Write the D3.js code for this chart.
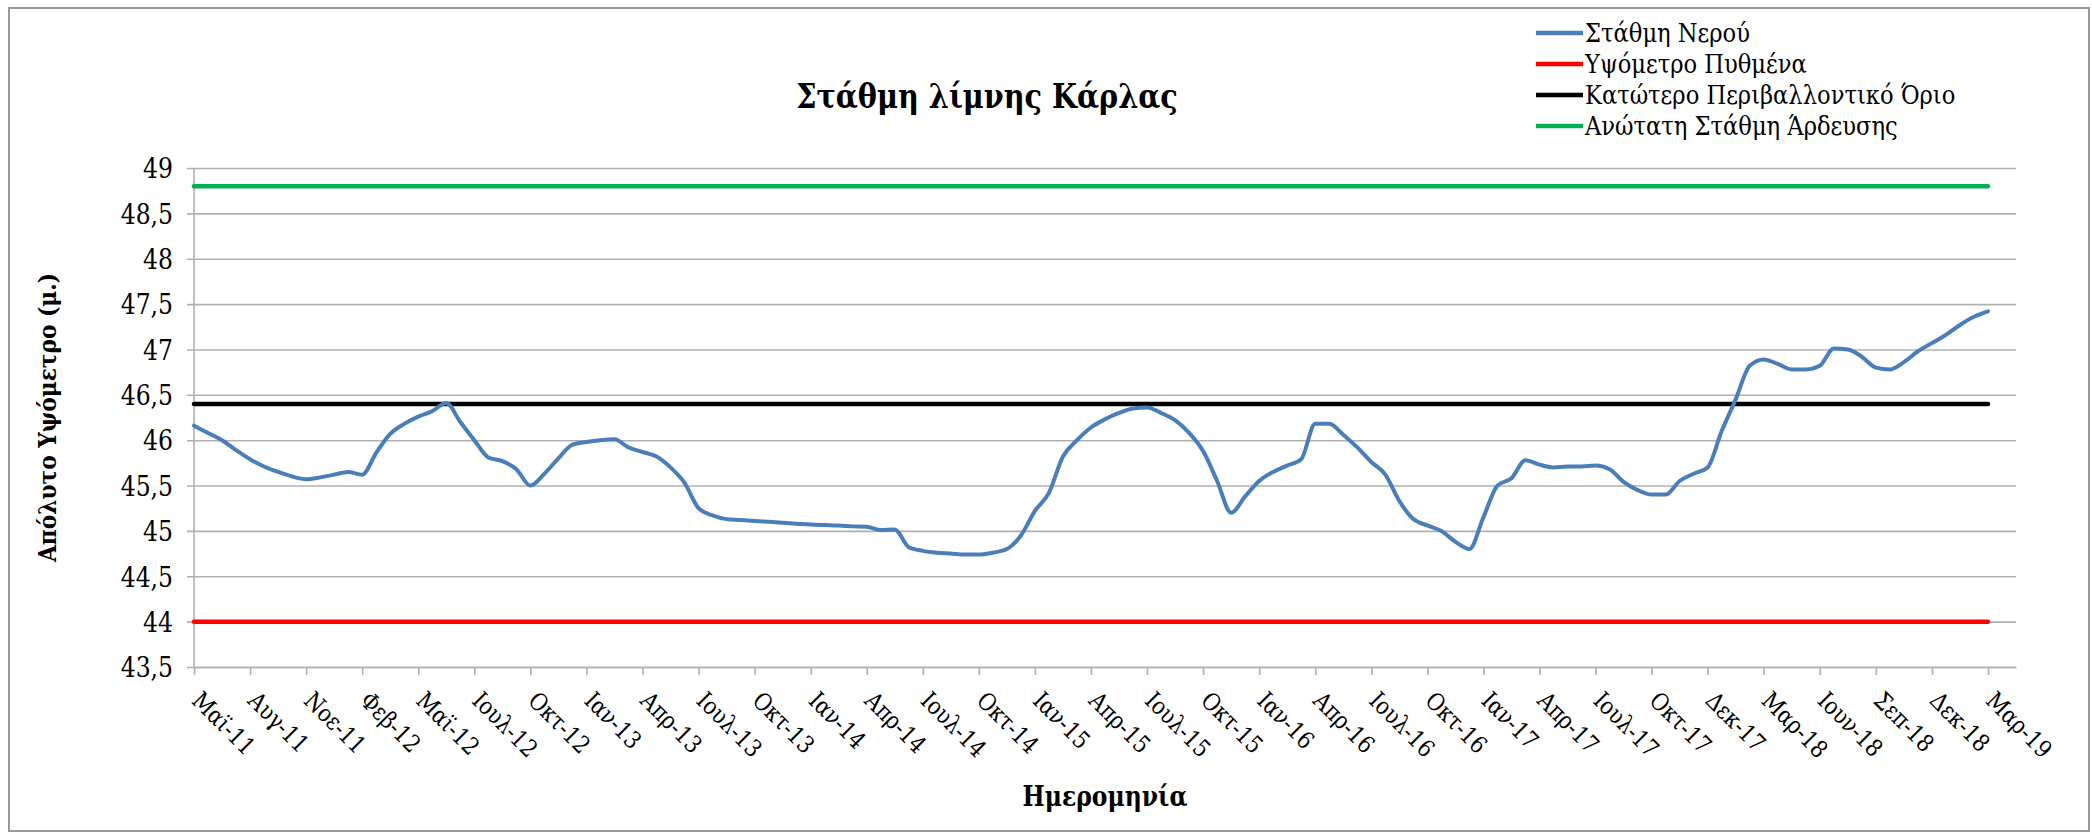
<!DOCTYPE html>
<html>
<head>
<meta charset="utf-8">
<script src="https://cdn.jsdelivr.net/npm/d3@7"></script>
<style>
  body { margin: 0; background: #ffffff; }
</style>
</head>
<body>
<script>
// ----- Data -----
// tick labels, one every 4 categories
const labels = ["Μαϊ-11","Αυγ-11","Νοε-11","Φεβ-12","Μαϊ-12","Ιουλ-12","Οκτ-12","Ιαν-13","Απρ-13",
    "Ιουλ-13","Οκτ-13","Ιαν-14","Απρ-14","Ιουλ-14","Οκτ-14","Ιαν-15","Απρ-15","Ιουλ-15","Οκτ-15",
    "Ιαν-16","Απρ-16","Ιουλ-16","Οκτ-16","Ιαν-17","Απρ-17","Ιουλ-17","Οκτ-17","Δεκ-17","Μαρ-18",
    "Ιουν-18","Σεπ-18","Δεκ-18","Μαρ-19"];
const labelStep = 4;

// water level (m), one value per category
const waterLevel = [
    46.16, 46.08, 46.00, 45.89,  45.79, 45.71, 45.65, 45.60,
    45.57, 45.59, 45.62, 45.65,  45.62, 45.86, 46.07, 46.18,
    46.26, 46.32, 46.41, 46.20,  46.00, 45.81, 45.77, 45.68,
    45.50, 45.63, 45.80, 45.95,  45.98, 46.00, 46.01, 45.92,
    45.87, 45.82, 45.70, 45.53,  45.25, 45.17, 45.13, 45.12,
    45.11, 45.10, 45.09, 45.08,  45.07, 45.065, 45.06, 45.05,
    45.045, 45.01, 45.015, 44.82, 44.78, 44.76, 44.75, 44.74,
    44.74, 44.76, 44.80, 44.95,  45.22, 45.42, 45.82, 46.00,
    46.14, 46.23, 46.30, 46.35,  46.36, 46.30, 46.22, 46.08,
    45.88, 45.55, 45.20, 45.38,  45.55, 45.65, 45.72, 45.79,
    46.18, 46.18, 46.06, 45.92,  45.76, 45.62, 45.33, 45.13,
    45.06, 45.00, 44.88, 44.80,  45.15, 45.50, 45.58, 45.78,
    45.73, 45.70, 45.71, 45.71,  45.72, 45.68, 45.54, 45.45,
    45.40, 45.40, 45.55, 45.63,  45.70, 46.10, 46.45, 46.82,
    46.89, 46.84, 46.78, 46.78,  46.82, 47.01, 47.00, 46.92,
    46.80, 46.78, 46.86, 46.98,  47.07, 47.16, 47.27, 47.36,
    47.42
];

// constant reference levels (m)
const bottomLevel = 44;        // Υψόμετρο Πυθμένα
const lowerLimit = 46.4;       // Κατώτερο Περιβαλλοντικό Όριο
const maxIrrigation = 48.8;    // Ανώτατη Στάθμη Άρδευσης

const yTicks = [43.5, 44, 44.5, 45, 45.5, 46, 46.5, 47, 47.5, 48, 48.5, 49];

const seriesNames = ["Στάθμη Νερού", "Υψόμετρο Πυθμένα", "Κατώτερο Περιβαλλοντικό Όριο", "Ανώτατη Στάθμη Άρδευσης"];
const seriesColors = ["#4a7ebb", "#ff0000", "#000000", "#00b050"];

// serif font, squeezed a little to get Times-like proportions
const serif = "'DejaVu Serif', serif";
const squeeze = " scale(0.87,1)";

// ----- Layout -----
const width = 2092, height = 833;
const plotLeft = 194, plotRight = 2016, plotTop = 168, plotBottom = 667;

const svg = d3.select("body")
    .append("svg")
    .attr("width", width)
    .attr("height", height)
    .attr("font-family", serif);

// chart border
svg.append("rect")
    .attr("x", 9)
    .attr("y", 8)
    .attr("width", 2080)
    .attr("height", 823)
    .attr("fill", "#ffffff")
    .attr("stroke", "#9a9a9a")
    .attr("stroke-width", 2);

// scales (one empty category after the last point, as in the original)
const x = d3.scaleLinear()
    .domain([0, waterLevel.length + 1])
    .range([plotLeft, plotRight]);

const y = d3.scaleLinear()
    .domain([43.5, 49])
    .range([plotBottom, plotTop]);

// ----- Gridlines + y axis -----
const yAxis = d3.axisLeft(y)
    .tickValues(yTicks)
    .tickSize(-(plotRight - plotLeft))
    .tickSizeOuter(0)
    .tickFormat(d => String(d).replace(".", ","));

const gy = svg.append("g")
    .attr("transform", "translate(" + plotLeft + ",0)")
    .call(yAxis)
    .attr("font-family", serif);

gy.select(".domain").remove();
gy.selectAll(".tick line")
    .attr("x1", -7)
    .attr("stroke", "#b0b0b0")
    .attr("stroke-width", 1.6);
gy.selectAll(".tick text")
    .attr("x", null)
    .attr("dy", "0.36em")
    .attr("transform", "translate(-21,0)" + squeeze)
    .style("font-size", "27px")
    .style("font-family", serif);

// y axis line
svg.append("line")
    .attr("x1", plotLeft)
    .attr("x2", plotLeft)
    .attr("y1", plotTop)
    .attr("y2", plotBottom)
    .attr("stroke", "#b0b0b0")
    .attr("stroke-width", 1.6);

// ----- x axis -----
const tickIdx = labels.map((l, i) => i * labelStep);

const xAxis = d3.axisBottom(x)
    .tickValues(tickIdx)
    .tickSize(8)
    .tickSizeOuter(0)
    .tickFormat((d, i) => labels[i]);

const gx = svg.append("g")
    .attr("transform", "translate(0," + plotBottom + ")")
    .call(xAxis)
    .attr("font-family", serif);

gx.select(".domain")
    .attr("stroke", "#b0b0b0")
    .attr("stroke-width", 1.6);
gx.selectAll(".tick line")
    .attr("stroke", "#b0b0b0")
    .attr("stroke-width", 1.6);
gx.selectAll(".tick text")
    .attr("text-anchor", "start")
    .attr("dy", null)
    .attr("y", 0)
    .attr("transform", "translate(-4,35) rotate(45)" + squeeze)
    .style("font-size", "24px")
    .style("font-family", serif);

// ----- Series -----
const idx = waterLevel.map((v, i) => i);
const lastIdx = waterLevel.length - 1;

const flatLine = d3.line()
    .x(d => x(d[0]))
    .y(d => y(d[1]));

const refLevels = [bottomLevel, lowerLimit, maxIrrigation];
refLevels.forEach(function(level, k){
    svg.append("path")
        .attr("d", flatLine([[0, level], [lastIdx, level]]))
        .attr("fill", "none")
        .attr("stroke", seriesColors[k + 1])
        .attr("stroke-width", 4.5)
        .attr("stroke-linecap", "round");
});

const waterLine = d3.line()
    .x(i => x(i))
    .y(i => y(waterLevel[i]))
    .curve(d3.curveMonotoneX);

svg.append("path")
    .attr("d", waterLine(idx))
    .attr("fill", "none")
    .attr("stroke", seriesColors[0])
    .attr("stroke-width", 4)
    .attr("stroke-linejoin", "round")
    .attr("stroke-linecap", "round");

// ----- Titles -----
svg.append("text")
    .attr("transform", "translate(987,108)" + squeeze)
    .attr("text-anchor", "middle")
    .style("font-size", "33px")
    .style("font-weight", "bold")
    .text("Στάθμη λίμνης Κάρλας");

svg.append("text")
    .attr("transform", "translate(" + ((plotLeft + plotRight) / 2) + ",806)" + squeeze)
    .attr("text-anchor", "middle")
    .style("font-size", "27px")
    .style("font-weight", "bold")
    .text("Ημερομηνία");

svg.append("text")
    .attr("transform", "translate(56," + ((plotTop + plotBottom) / 2) + ") rotate(-90)" + squeeze)
    .attr("text-anchor", "middle")
    .style("font-size", "25px")
    .style("font-weight", "bold")
    .text("Απόλυτο Υψόμετρο (μ.)");

// ----- Legend -----
const legend = svg.append("g")
    .attr("transform", "translate(1536,33)");

seriesNames.forEach(function(name, i){
    legend.append("line")
        .attr("x1", 0)
        .attr("x2", 47)
        .attr("y1", i * 31)
        .attr("y2", i * 31)
        .attr("stroke", seriesColors[i])
        .attr("stroke-width", 4.5);

    legend.append("text")
        .attr("transform", "translate(49," + (i * 31) + ")" + squeeze)
        .attr("dy", "0.36em")
        .style("font-size", "26px")
        .text(name);
});
</script>
</body>
</html>
